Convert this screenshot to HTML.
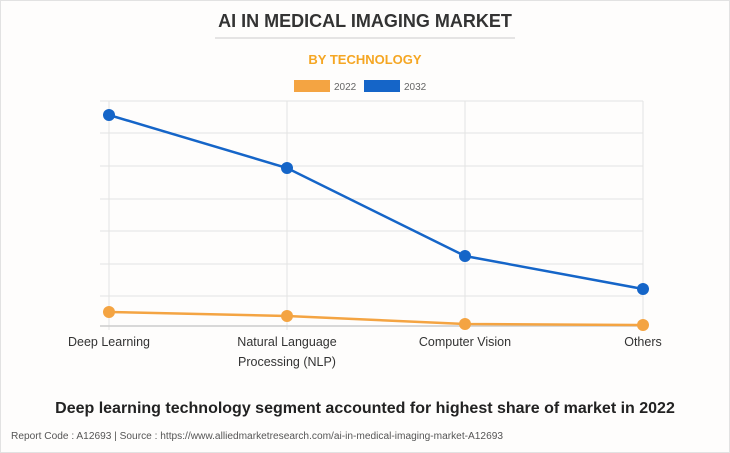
<!DOCTYPE html>
<html><head><style>
body{margin:0;background:#fff;}
.wrap{position:relative;width:728px;height:451px;border:1px solid #e2e2e2;background:#fefdfc;font-family:"Liberation Sans",Arial,sans-serif;}
</style></head><body><div class="wrap">
<svg width="730" height="453" style="position:absolute;left:-1px;top:-1px" font-family="Liberation Sans, Arial, sans-serif">
<text x="365" y="27" text-anchor="middle" font-size="18" font-weight="bold" fill="#333">AI IN MEDICAL IMAGING MARKET</text>
<line x1="215" y1="38" x2="515" y2="38" stroke="#ccc"/>
<text x="365" y="64" text-anchor="middle" font-size="13" font-weight="bold" fill="#f5a623">BY TECHNOLOGY</text>
<rect x="294" y="80" width="36" height="12" fill="#f4a442"/>
<text x="334" y="90" font-size="10" fill="#666">2022</text>
<rect x="364" y="80" width="36" height="12" fill="#1565c8"/>
<text x="404" y="90" font-size="10" fill="#666">2032</text>
<g stroke="#e3e3e3" stroke-width="1">
<line x1="100" y1="101" x2="643" y2="101"/>
<line x1="100" y1="133" x2="643" y2="133"/>
<line x1="100" y1="166" x2="643" y2="166"/>
<line x1="100" y1="199" x2="643" y2="199"/>
<line x1="100" y1="231" x2="643" y2="231"/>
<line x1="100" y1="264" x2="643" y2="264"/>
<line x1="100" y1="296" x2="643" y2="296"/>
<line x1="109" y1="101" x2="109" y2="330"/>
<line x1="287" y1="101" x2="287" y2="330"/>
<line x1="465" y1="101" x2="465" y2="330"/>
<line x1="643" y1="101" x2="643" y2="330"/>
</g>
<line x1="100" y1="326" x2="643" y2="326" stroke="#ccc" stroke-width="1.5"/>
<polyline points="109,312 287,316 465,324 643,325" fill="none" stroke="#f4a442" stroke-width="2.5"/>
<g fill="#f4a442"><circle cx="109" cy="312" r="6"/><circle cx="287" cy="316" r="6"/><circle cx="465" cy="324" r="6"/><circle cx="643" cy="325" r="6"/></g>
<polyline points="109,115 287,168 465,256 643,289" fill="none" stroke="#1565c8" stroke-width="2.5"/>
<g fill="#1565c8"><circle cx="109" cy="115" r="6"/><circle cx="287" cy="168" r="6"/><circle cx="465" cy="256" r="6"/><circle cx="643" cy="289" r="6"/></g>
<g font-size="12.5" fill="#333" text-anchor="middle">
<text x="109" y="346">Deep Learning</text>
<text x="287" y="346">Natural Language</text>
<text x="287" y="366">Processing (NLP)</text>
<text x="465" y="346">Computer Vision</text>
<text x="643" y="346">Others</text>
</g>
<text x="365" y="413" text-anchor="middle" font-size="16" font-weight="bold" fill="#222">Deep learning technology segment accounted for highest share of market in 2022</text>
<text x="11" y="439" font-size="10" fill="#555" textLength="492" lengthAdjust="spacingAndGlyphs">Report Code : A12693  |  Source : https://www.alliedmarketresearch.com/ai-in-medical-imaging-market-A12693</text>
</svg>
</div></body></html>
